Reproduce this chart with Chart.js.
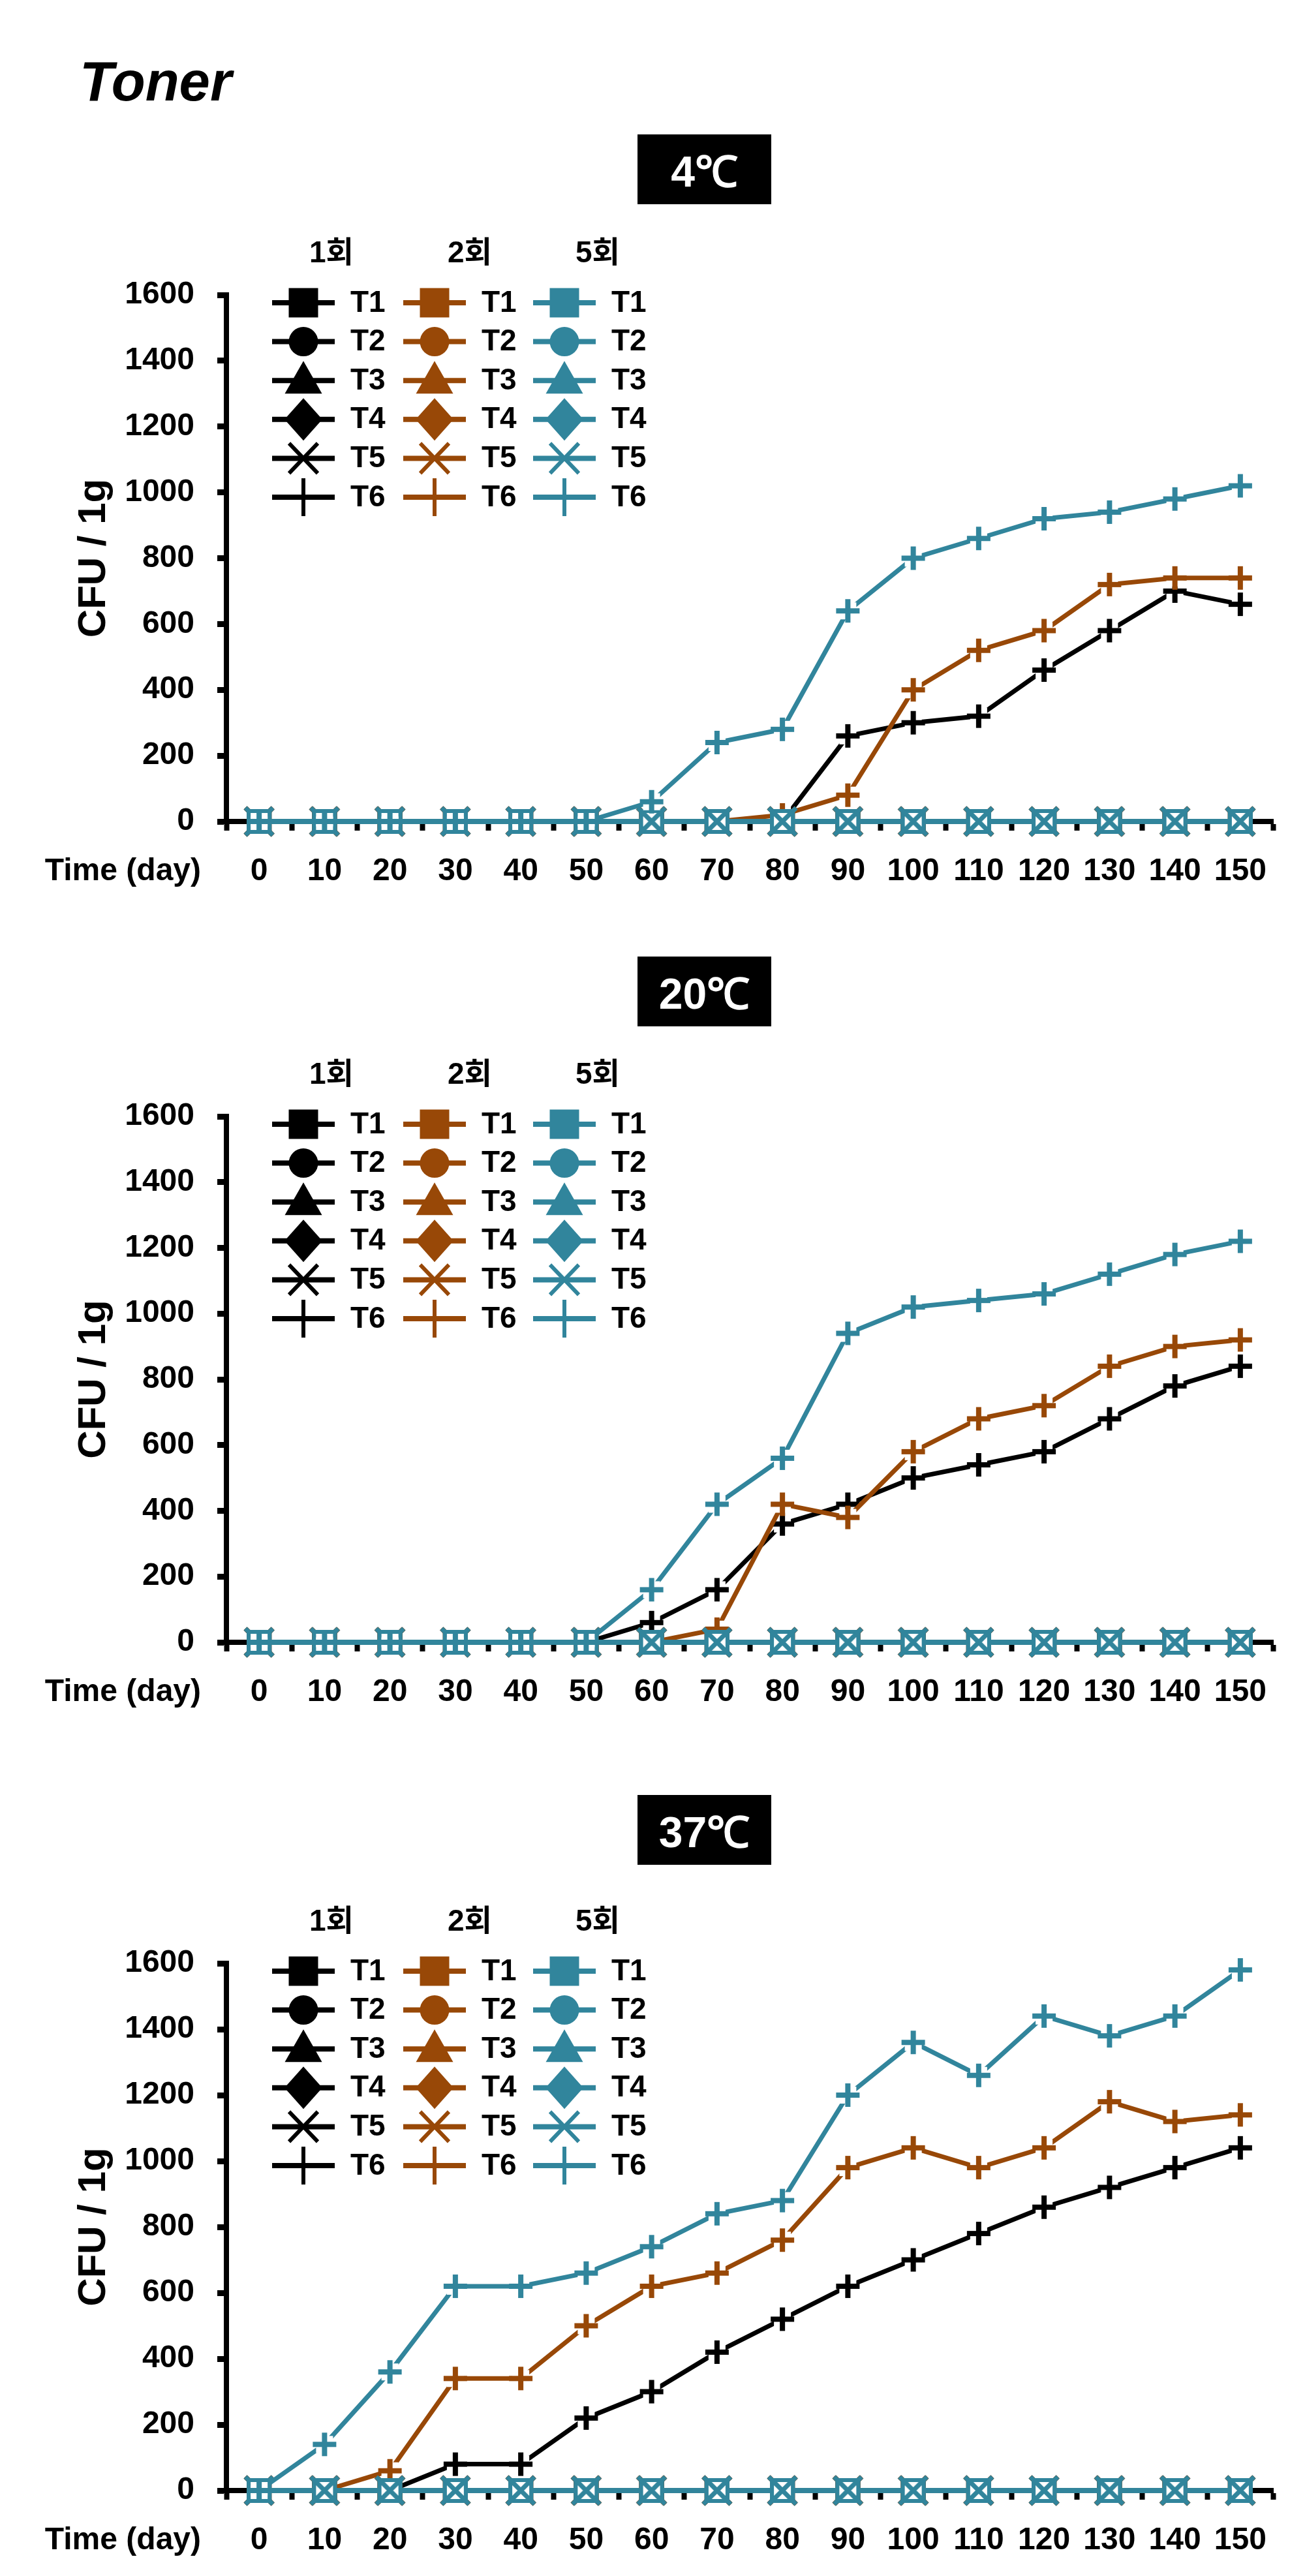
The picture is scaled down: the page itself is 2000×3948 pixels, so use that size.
<!DOCTYPE html>
<html>
<head>
<meta charset="utf-8">
<script src="https://cdn.jsdelivr.net/npm/chart.js@4.4.1/dist/chart.umd.min.js"></script>
<style>
html,body{margin:0;padding:0;background:#fff;}
body{width:2000px;height:3948px;position:relative;overflow:hidden;}
.title{position:absolute;left:122px;top:83px;font:italic bold 85px "Liberation Sans",Arial,sans-serif;line-height:84px;color:#000;}
.temp{position:absolute;left:977px;width:205px;height:107px;background:#000;color:#fff;display:flex;align-items:center;justify-content:center;font:bold 66px "Liberation Sans Narrow","Liberation Sans",sans-serif;}
canvas{position:absolute;left:0;}
</style>
</head>
<body>
<div class="title" id="mainTitle"></div>
<script>
// ---------------- data ----------------
const pageTitle = 'Toner';
const days = ['0','10','20','30','40','50','60','70','80','90','100','110','120','130','140','150'];
const tempLabels = ['4℃', '20℃', '37℃'];
const groupLabels = ['1회', '2회', '5회'];
const seriesNames = ['T1', 'T2', 'T3', 'T4', 'T5', 'T6'];
const yTicks = [0, 200, 400, 600, 800, 1000, 1200, 1400, 1600];
const yAxisTitle = 'CFU / 1g';
const xAxisLabel = 'Time (day)';

// T1-T5 read as zero on every day, for every group and temperature
const zeroSeries = [0,0,0,0,0,0,0,0,0,0,0,0,0,0,0,0];

// T6 values (CFU / 1g)
const t6_4C_g1  = [0,0,0,0,0,0,0,0,0,260,300,320,460,580,700,660];
const t6_4C_g2  = [0,0,0,0,0,0,0,0,20,80,400,520,580,720,740,740];
const t6_4C_g5  = [0,0,0,0,0,0,60,240,280,640,800,860,920,940,980,1020];

const t6_20C_g1 = [0,0,0,0,0,0,60,160,360,420,500,540,580,680,780,840];
const t6_20C_g2 = [0,0,0,0,0,0,0,40,420,380,580,680,720,840,900,920];
const t6_20C_g5 = [0,0,0,0,0,0,160,420,560,940,1020,1040,1060,1120,1180,1220];

const t6_37C_g1 = [0,0,0,80,80,220,300,420,520,620,700,780,860,920,980,1040];
const t6_37C_g2 = [0,0,60,340,340,500,620,660,760,980,1040,980,1040,1180,1120,1140];
const t6_37C_g5 = [0,140,360,620,620,660,740,840,880,1200,1360,1260,1440,1380,1440,1580];

const t6ByTemp = [
  [t6_4C_g1, t6_4C_g2, t6_4C_g5],
  [t6_20C_g1, t6_20C_g2, t6_20C_g5],
  [t6_37C_g1, t6_37C_g2, t6_37C_g5]
];

// ---------------- styling ----------------
const groupColors = ['#000000', '#984807', '#31859C'];
const FONT = '"Liberation Sans", Arial, sans-serif';
const layoutY = [
  {top: 452,  bottom: 1259, box: 206},
  {top: 1711, bottom: 2517, box: 1466},
  {top: 3009, bottom: 3817, box: 2751}
];
const PAD_TOP = 140, X_AXIS_H = 125, Y_AXIS_W = 347, PAD_RIGHT = 49;
const legendMarkerX = [465, 666, 865];
const legendHeaderX = [474, 686, 882];

document.getElementById('mainTitle').textContent = pageTitle;

function makeCrossMarker(color, kind) {
  const S = 54, m = S / 2;
  const c = document.createElement('canvas');
  c.width = S; c.height = S;
  const g = c.getContext('2d');
  g.fillStyle = '#ffffff';
  g.fillRect(m - 13, m - 13, 26, 26);
  g.strokeStyle = color;
  g.lineCap = 'butt';
  g.beginPath();
  if (kind === 'plus') {
    g.lineWidth = 8;
    g.moveTo(m - 18, m); g.lineTo(m + 18, m);
    g.moveTo(m, m - 18); g.lineTo(m, m + 18);
  } else {
    g.lineWidth = 7;
    const d = 21;
    g.moveTo(m - d, m - d); g.lineTo(m + d, m + d);
    g.moveTo(m + d, m - d); g.lineTo(m - d, m + d);
  }
  g.stroke();
  return c;
}

// plot marker per series index (T1..T6)
function plotMarker(color, idx) {
  switch (idx) {
    case 0: return {pointStyle: 'rect', pointRadius: 27};
    case 1: return {pointStyle: 'circle', pointRadius: 16};
    case 2: return {pointStyle: 'triangle', pointRadius: 18};
    case 3: return {pointStyle: 'rectRot', pointRadius: 19};
    case 4: return {pointStyle: makeCrossMarker(color, 'x'), pointRadius: 19};
    default: return {pointStyle: makeCrossMarker(color, 'plus'), pointRadius: 19};
  }
}
const styleRank = [2, 5, 4, 3, 1, 0];      // lower = drawn on top
const colorRank = [2, 1, 0];               // teal on top, then orange, then black

function drawLegendMarker(ctx, idx, x, y, color) {
  ctx.save();
  ctx.strokeStyle = color; ctx.fillStyle = color;
  ctx.lineWidth = 8; ctx.lineCap = 'butt';
  ctx.beginPath(); ctx.moveTo(x - 48, y); ctx.lineTo(x + 48, y); ctx.stroke();
  ctx.beginPath();
  switch (idx) {
    case 0: ctx.rect(x - 22.5, y - 22.5, 45, 45); ctx.fill(); break;
    case 1: ctx.arc(x, y, 22.5, 0, Math.PI * 2); ctx.fill(); break;
    case 2: ctx.moveTo(x, y - 30); ctx.lineTo(x + 28.5, y + 20); ctx.lineTo(x - 28.5, y + 20); ctx.closePath(); ctx.fill(); break;
    case 3: ctx.moveTo(x, y - 32.5); ctx.lineTo(x + 29, y); ctx.lineTo(x, y + 32.5); ctx.lineTo(x - 29, y); ctx.closePath(); ctx.fill(); break;
    case 4: ctx.lineWidth = 6; ctx.moveTo(x - 22, y - 23); ctx.lineTo(x + 22, y + 23); ctx.moveTo(x + 22, y - 23); ctx.lineTo(x - 22, y + 23); ctx.stroke(); break;
    default: ctx.lineWidth = 6; ctx.moveTo(x, y - 29); ctx.lineTo(x, y + 29); ctx.stroke();
  }
  ctx.restore();
}

const gridLegendPlugin = {
  id: 'gridLegend',
  afterDatasetsDraw(chart) {
    const ctx = chart.ctx;
    const top = chart.chartArea.top;
    ctx.save();
    ctx.fillStyle = '#000';
    ctx.textAlign = 'left';
    ctx.textBaseline = 'alphabetic';
    ctx.font = 'bold 46px ' + FONT + ', "Noto Sans CJK KR"';
    groupLabels.forEach((lab, c) => ctx.fillText(lab, legendHeaderX[c], top - 50));
    ctx.textBaseline = 'middle';
    ctx.font = 'bold 46px ' + FONT;
    groupColors.forEach((color, c) => {
      seriesNames.forEach((name, r) => {
        const y = top + 12 + r * 59.6;
        drawLegendMarker(ctx, r, legendMarkerX[c], y, color);
        ctx.fillStyle = '#000';
        ctx.fillText(name, legendMarkerX[c] + 72, y + 1);
      });
    });
    ctx.restore();
  },
  afterDraw(chart) {
    const ctx = chart.ctx;
    ctx.save();
    ctx.fillStyle = '#000';
    ctx.font = 'bold 48px ' + FONT;
    ctx.textAlign = 'right';
    ctx.textBaseline = 'middle';
    ctx.fillText(xAxisLabel, 308, chart.chartArea.bottom + 77);
    ctx.restore();
  }
};

tempLabels.forEach((tLabel, ti) => {
  const L = layoutY[ti];
  const box = document.createElement('div');
  box.className = 'temp';
  box.style.top = L.box + 'px';
  box.textContent = tLabel;
  document.body.appendChild(box);

  const canvas = document.createElement('canvas');
  const H = (L.bottom - L.top) + PAD_TOP + X_AXIS_H;
  canvas.width = 2000; canvas.height = H;
  canvas.style.top = (L.top - PAD_TOP) + 'px';
  canvas.style.width = '2000px'; canvas.style.height = H + 'px';
  document.body.appendChild(canvas);

  const datasets = [];
  groupColors.forEach((color, c) => {
    seriesNames.forEach((name, s) => {
      const values = s === 5 ? t6ByTemp[ti][c] : zeroSeries;
      datasets.push(Object.assign({
        label: groupLabels[c] + ' ' + name,
        data: values,
        borderColor: color,
        backgroundColor: color,
        pointBackgroundColor: color,
        pointBorderColor: color,
        pointBorderWidth: 0,
        borderWidth: 7,
        tension: 0,
        clip: false,
        order: colorRank[c] * 10 + styleRank[s]
      }, plotMarker(color, s)));
    });
  });

  const tickFont = {family: FONT, size: 48, weight: 'bold'};
  new Chart(canvas, {
    type: 'line',
    data: {labels: days, datasets},
    options: {
      responsive: false,
      devicePixelRatio: 1,
      animation: false,
      events: [],
      layout: {padding: {top: PAD_TOP, right: PAD_RIGHT, bottom: 0, left: 0}},
      plugins: {legend: {display: false}, tooltip: {enabled: false}, title: {display: false}},
      scales: {
        x: {
          type: 'category',
          offset: true,
          afterFit: (s) => { s.height = X_AXIS_H; },
          grid: {offset: true, drawOnChartArea: false, drawTicks: true, tickLength: 14, tickWidth: 8, color: '#000'},
          border: {display: true, width: 8, color: '#000'},
          ticks: {color: '#000', font: tickFont, padding: 34, maxRotation: 0, autoSkip: false}
        },
        y: {
          min: 0, max: 1600,
          afterFit: (s) => { s.width = Y_AXIS_W; },
          afterBuildTicks: (s) => { s.ticks = yTicks.map(v => ({value: v})); },
          grid: {drawOnChartArea: false, drawTicks: true, tickLength: 14, tickWidth: 9, color: '#000'},
          border: {display: true, width: 8, color: '#000'},
          ticks: {color: '#000', font: tickFont, padding: 35, callback: (v) => String(v)},
          title: {display: true, text: yAxisTitle, color: '#000', font: {family: FONT, size: 60, weight: 'bold'}, padding: {top: 108, bottom: 0}}
        }
      }
    },
    plugins: [gridLegendPlugin]
  });
});
</script>
</body>
</html>
